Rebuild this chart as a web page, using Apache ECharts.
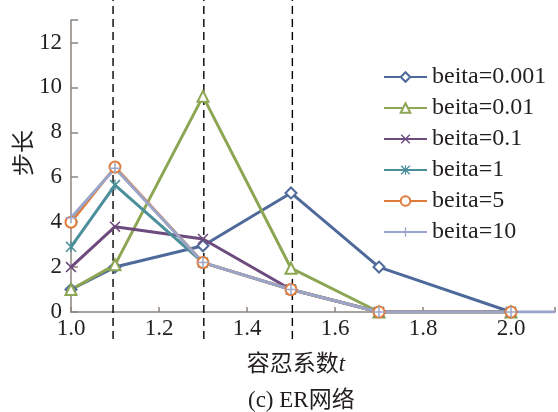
<!DOCTYPE html>
<html>
<head>
<meta charset="utf-8">
<script src="https://cdn.jsdelivr.net/npm/echarts@6/dist/echarts.min.js"></script>
<style>
  html, body { margin: 0; padding: 0; background: #fff; }
  #content { width: 558px; height: 412px; }
</style>
</head>
<body>
<div id="content"></div>
<script>
// x positions (tolerance coefficient t)
var tValues = [1.0, 1.1, 1.3, 1.5, 1.7, 2.0];
var seriesNames = ['beita=0.001', 'beita=0.01', 'beita=0.1', 'beita=1', 'beita=5', 'beita=10'];
var step0001 = [1.0, 2.0, 2.95, 5.3, 2.0, 0];
var step001 = [1.0, 2.1, 9.6, 1.95, 0, 0];
var step01 = [2.0, 3.8, 3.25, 1.0, 0, 0];
var step1 = [2.9, 5.65, 2.2, 1.0, 0, 0];
var step5 = [4.0, 6.45, 2.2, 1.0, 0, 0];
var step10 = [4.2, 6.4, 2.2, 1.0, 0, 0];
var dashedAt = [1.095, 1.3, 1.5];

!(function(window) {
    var element = document.getElementById('content');
    var myChart = echarts.init(element);

    var serif = '"Liberation Serif", "Noto Sans CJK SC", serif';
    var axisColor = '#8c8580';

    var xMark = 'path://M0,1 L1,0 L5,4 L9,0 L10,1 L6,5 L10,9 L9,10 L5,6 L1,10 L0,9 L4,5 Z';
    var starMark = 'path://M0,1 L1,0 L5,4 L9,0 L10,1 L6,5 L10,9 L9,10 L5,6 L1,10 L0,9 L4,5 Z M4.4,0 H5.6 V10 H4.4 Z';
    var plusMark = 'path://M4.3,0 H5.7 V4.3 H10 V5.7 H5.7 V10 H4.3 V5.7 H0 V4.3 H4.3 Z';

    var styles = [
        { color: '#4f6a9a', symbol: 'emptyDiamond', size: 11 },
        { color: '#8da653', symbol: 'emptyTriangle', size: 11 },
        { color: '#6e4b7e', symbol: xMark, size: 11 },
        { color: '#4b8f9b', symbol: starMark, size: 11 },
        { color: '#e07b3c', symbol: 'emptyCircle', size: 11 },
        { color: '#9aa6c9', symbol: plusMark, size: 11 }
    ];
    var values = [step0001, step001, step01, step1, step5, step10];

    function pairs(ys, extend) {
        var out = [];
        for (var i = 0; i < tValues.length; i++) {
            out.push([tValues[i], ys[i]]);
        }
        if (extend) {
            // line keeps running along the axis to the edge
            out.push({ value: [2.1, ys[ys.length - 1]], symbol: 'none' });
        }
        return out;
    }

    var series = [];
    for (var d = 0; d < dashedAt.length; d++) {
        series.push({
            type: 'line',
            xAxisIndex: 1,
            yAxisIndex: 1,
            symbol: 'none',
            silent: true,
            lineStyle: { color: '#000', width: 1.4, type: [8, 5] },
            data: [[dashedAt[d], 0], [dashedAt[d], 1]],
            z: 1
        });
    }
    for (var s = 0; s < seriesNames.length; s++) {
        series.push({
            name: seriesNames[s],
            type: 'line',
            symbol: styles[s].symbol,
            symbolSize: styles[s].size,
            lineStyle: { color: styles[s].color, width: 3 },
            itemStyle: { color: styles[s].color, borderWidth: 1.5 },
            data: pairs(values[s], s === seriesNames.length - 1),
            z: 3
        });
    }

    var option = {
        animation: false,
        title: {
            text: '(c) ER网络',
            left: 243,
            top: 384,
            textStyle: { fontFamily: serif, fontSize: 23, fontWeight: 'normal', color: '#231f20' }
        },
        legend: {
            orient: 'vertical',
            left: 378,
            top: 60,
            itemWidth: 43,
            itemHeight: 12,
            itemGap: 7,
            data: seriesNames,
            textStyle: { fontFamily: serif, fontSize: 24, color: '#231f20' }
        },
        grid: [
            { left: 71, right: -2, top: 20, bottom: 100 },
            { left: 71, right: -2, top: 0, bottom: 73 }
        ],
        xAxis: [{
            type: 'value',
            gridIndex: 0,
            min: 1.0,
            max: 2.1,
            interval: 0.2,
            name: '容忍系数{i|t}',
            nameLocation: 'middle',
            nameGap: 41,
            nameMoveOverlap: false,
            nameTextStyle: {
                fontFamily: serif, fontSize: 23, color: '#231f20',
                padding: [0, 34, 0, 0],
                rich: { i: { fontFamily: serif, fontSize: 23, fontStyle: 'italic', color: '#231f20' } }
            },
            axisLine: { lineStyle: { color: axisColor, width: 1.5 } },
            axisTick: { inside: true, length: 5, lineStyle: { color: axisColor, width: 1.5 } },
            axisLabel: {
                fontFamily: serif, fontSize: 23, color: '#231f20', margin: 5,
                formatter: function(v) {
                    return Math.abs(v - 2.1) < 1e-6 ? '' : v.toFixed(1);
                }
            },
            splitLine: { show: false }
        }, {
            type: 'value',
            gridIndex: 1,
            min: 1.0,
            max: 2.1,
            show: false
        }],
        yAxis: [{
            type: 'value',
            gridIndex: 0,
            min: 0,
            max: 13,
            interval: 2,
            name: '步长',
            nameLocation: 'middle',
            nameGap: 35,
            nameMoveOverlap: false,
            nameTextStyle: {
                fontFamily: serif, fontSize: 23, color: '#231f20',
                padding: [0, 0, 0, 26]
            },
            axisLine: { show: true, lineStyle: { color: axisColor, width: 1.5 } },
            axisTick: { show: true, inside: true, length: 7, lineStyle: { color: axisColor, width: 1.5 } },
            axisLabel: {
                fontFamily: serif, fontSize: 23, color: '#231f20', margin: 9,
                formatter: function(v) {
                    return v % 2 === 0 ? String(v) : '';
                }
            },
            splitLine: { show: false }
        }, {
            type: 'value',
            gridIndex: 1,
            min: 0,
            max: 1,
            show: false
        }],
        series: series
    };
    myChart.setOption(option);
})(window);
</script>
</body>
</html>
